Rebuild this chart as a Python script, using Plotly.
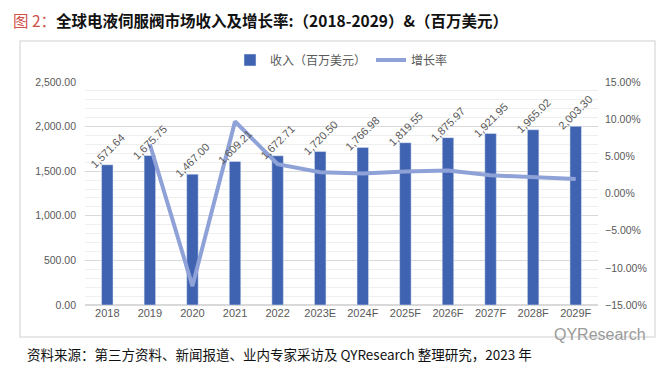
import plotly.graph_objects as go

categories = ["2018", "2019", "2020", "2021", "2022", "2023E", "2024F", "2025F", "2026F", "2027F", "2028F", "2029F"]
revenue = [1571.64, 1675.75, 1467.00, 1609.21, 1672.71, 1720.50, 1766.98, 1819.55, 1875.97, 1921.95, 1965.02, 2003.30]
growth_cats = categories[1:]
growth = [6.62, -12.46, 9.69, 3.95, 2.86, 2.70, 2.97, 3.10, 2.45, 2.24, 1.95]

bar_color = "#4063B1"
line_color = "#8FA2D8"
tick_color = "#595959"

fig = go.Figure()
fig.add_trace(go.Bar(
    x=categories, y=revenue, name="收入（百万美元）",
    marker_color=bar_color, width=0.27,
))
fig.add_trace(go.Scatter(
    x=growth_cats, y=growth, name="增长率", yaxis="y2", mode="lines",
    line=dict(color=line_color, width=4),
))

for i, v in enumerate(revenue):
    fig.add_annotation(x=i, y=v, xref="x", yref="y", text=f"{v:,.2f}", showarrow=False,
                       textangle=-45, xanchor="center", yanchor="middle", yshift=14,
                       font=dict(size=11, color=tick_color, family="Liberation Sans, sans-serif"))

# The page body has an 8px default margin; figure is sized/offset so the plot lands like the reference.
W, H = 662, 357
L, T, R, B = 77, 74, 72, 60
pw, ph = W - L - R, H - T - B

def px(xpix):  # reference page x -> paper x
    return (xpix - 8 - L) / pw

def py(ypix):  # reference page y -> paper y
    return (H - B - (ypix - 8)) / ph

fig.update_layout(
    width=W, height=H,
    margin=dict(l=L, r=R, t=T, b=B),
    paper_bgcolor="white", plot_bgcolor="white",
    font=dict(family="Liberation Sans, Noto Sans CJK SC, sans-serif", color=tick_color, size=11),
    showlegend=True,
    legend=dict(orientation="h", x=0.5, xanchor="center", y=py(60), yanchor="middle",
                font=dict(size=12, color=tick_color, family="Noto Sans CJK SC, sans-serif"),
                itemwidth=30, tracegroupgap=0),
    bargap=0.7,
    xaxis=dict(type="category", showgrid=False, showline=False, ticks="",
               tickfont=dict(size=11, color=tick_color)),
    yaxis=dict(range=[0, 2500], dtick=500, tickformat=",.2f", showgrid=True,
               gridcolor="#D9D9D9", gridwidth=1, zeroline=True, zerolinecolor="#D9D9D9",
               minor=dict(dtick=100, showgrid=True, gridcolor="#EFEFEF", gridwidth=1),
               tickfont=dict(size=10.5, color=tick_color), ticklabelstandoff=8),
    yaxis2=dict(range=[-15, 15], dtick=5, overlaying="y", side="right", showgrid=False,
                zeroline=False, tickformat=".2f", ticksuffix="%",
                tickfont=dict(size=10.5, color=tick_color), ticklabelstandoff=6),
)

# chart border
fig.add_shape(type="rect", xref="paper", yref="paper",
              x0=px(20), x1=px(655), y0=py(337), y1=py(41),
              line=dict(color="#E0E0E0", width=1.5), fillcolor="rgba(0,0,0,0)", layer="below")

# title
fig.add_annotation(xref="paper", yref="paper", x=px(11), y=py(20), xanchor="left", yanchor="middle",
                   showarrow=False,
                   text="<span style='color:#D0504A'>图 2：</span><b>全球电液伺服阀市场收入及增长率:（2018-2029）&amp;（百万美元）</b>",
                   font=dict(size=15.5, color="#111111", family="Noto Sans CJK SC, sans-serif"))
# source
fig.add_annotation(xref="paper", yref="paper", x=px(25), y=py(354), xanchor="left", yanchor="middle",
                   showarrow=False,
                   text="资料来源：第三方资料、新闻报道、业内专家采访及 QYResearch 整理研究，2023 年",
                   font=dict(size=13.5, color="#111111", family="Noto Sans CJK SC, sans-serif"))
# watermark
fig.add_annotation(xref="paper", yref="paper", x=px(648), y=py(334), xanchor="right", yanchor="middle",
                   showarrow=False, text="QYResearch",
                   font=dict(size=16, color="#9A9A9A", family="Liberation Sans, sans-serif"))

fig.write_html("out.html", config={"displayModeBar": False})
